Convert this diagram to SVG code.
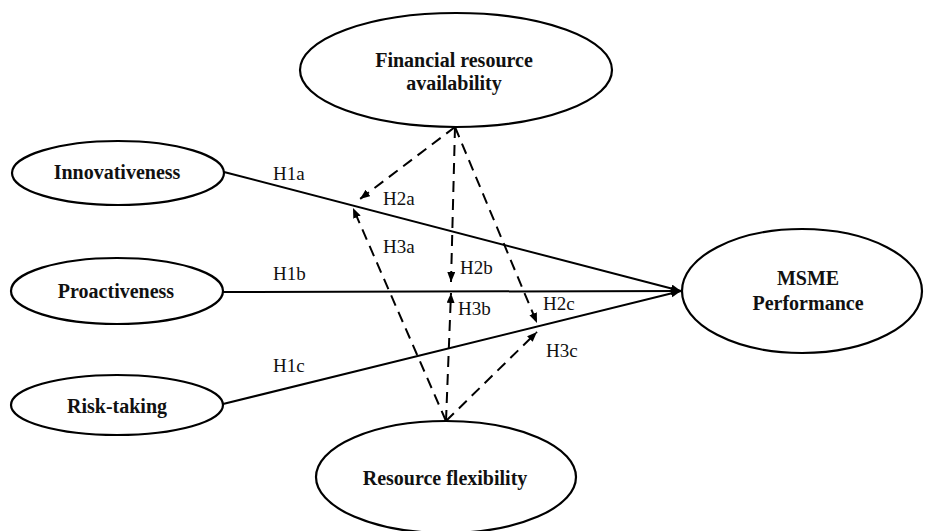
<svg xmlns="http://www.w3.org/2000/svg" width="925" height="531" viewBox="0 0 925 531">
<defs>
<style>
.node ellipse{fill:#fff;stroke:#000;stroke-width:2.2}
.nt{font-weight:bold;font-size:20px;text-anchor:middle;fill:#111}
.lb{font-size:19px;fill:#111}
.solid{stroke:#000;stroke-width:2;fill:none}
.dash{stroke:#000;stroke-width:2;fill:none;stroke-dasharray:11 7}
</style>
<marker id="ah" markerUnits="userSpaceOnUse" markerWidth="12" markerHeight="10" refX="10" refY="4" orient="auto">
<path d="M0,0 L10,4 L0,8 Z" fill="#000"/>
</marker>
</defs>
<rect width="925" height="531" fill="#fff"/>
<g id="connectors">
<line class="solid" x1="224" y1="172" x2="681" y2="291" marker-end="url(#ah)"/>
<line class="solid" x1="223" y1="292" x2="681" y2="291" marker-end="url(#ah)"/>
<line class="solid" x1="223" y1="404" x2="681" y2="291" marker-end="url(#ah)"/>
<line class="dash" x1="455" y1="127" x2="360" y2="199" marker-end="url(#ah)"/>
<line class="dash" x1="455" y1="127" x2="451" y2="282" marker-end="url(#ah)"/>
<line class="dash" x1="455" y1="127" x2="537" y2="323" marker-end="url(#ah)"/>
<line class="dash" x1="446" y1="421" x2="353" y2="208" marker-end="url(#ah)"/>
<line class="dash" x1="446" y1="421" x2="451" y2="293" marker-end="url(#ah)"/>
<line class="dash" x1="446" y1="421" x2="537" y2="332" marker-end="url(#ah)"/>
</g>
<g id="labels" font-family="'Liberation Serif', 'Times New Roman', 'DejaVu Serif', serif">
<text class="lb" x="273" y="180">H1a</text>
<text class="lb" x="383" y="205">H2a</text>
<text class="lb" x="383" y="253">H3a</text>
<text class="lb" x="273" y="280">H1b</text>
<text class="lb" x="460" y="274">H2b</text>
<text class="lb" x="458" y="315">H3b</text>
<text class="lb" x="543" y="310">H2c</text>
<text class="lb" x="546" y="357">H3c</text>
<text class="lb" x="273" y="372">H1c</text>
</g>
<g font-family="'Liberation Serif', 'Times New Roman', 'DejaVu Serif', serif">
<g id="financial" class="node">
<ellipse cx="456" cy="70" rx="156" ry="57"/>
<text class="nt" x="454" y="67">Financial resource</text>
<text class="nt" x="454" y="90">availability</text>
</g>
<g id="innovativeness" class="node">
<ellipse cx="118" cy="173" rx="106" ry="32"/>
<text class="nt" x="117" y="179">Innovativeness</text>
</g>
<g id="proactiveness" class="node">
<ellipse cx="117" cy="291" rx="106" ry="33"/>
<text class="nt" x="116" y="298">Proactiveness</text>
</g>
<g id="risktaking" class="node">
<ellipse cx="117" cy="405" rx="106" ry="30"/>
<text class="nt" x="117" y="413">Risk-taking</text>
</g>
<g id="msme" class="node">
<ellipse cx="802" cy="291" rx="120" ry="62"/>
<text class="nt" x="808" y="285">MSME</text>
<text class="nt" x="808" y="310">Performance</text>
</g>
<g id="resourceflex" class="node">
<ellipse cx="446" cy="477" rx="130" ry="56"/>
<text class="nt" x="445" y="485">Resource flexibility</text>
</g>
</g>
</svg>
